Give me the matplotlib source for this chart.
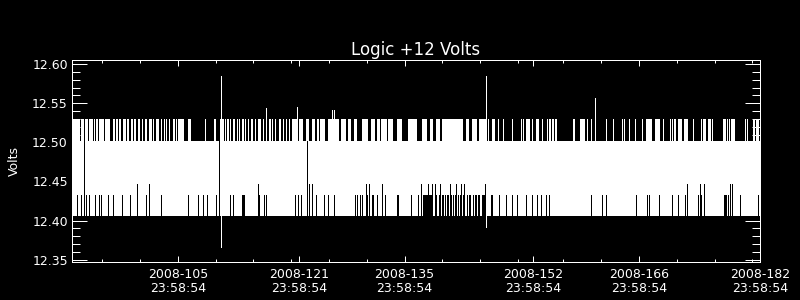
import matplotlib
matplotlib.use("Agg")
import matplotlib.pyplot as plt
from matplotlib.ticker import FixedLocator, MultipleLocator, FuncFormatter
import matplotlib.dates as mdates
from datetime import datetime, timedelta

# ---------------- data ----------------
title = "Logic +12 Volts"
ylabel = "Volts"

data_start_doy = 92.0          # 2008-092 00:00 (Apr 1)
data_end_doy = 182.99924       # 2008-182 23:58:54

band_low = 12.406              # usual minimum of the readings
band_high = 12.502             # usual maximum of the readings
upper_level = 12.530           # one-step excursions above the band
gap_level = 12.433             # minimum when the lowest step is absent
deep_gap_level = 12.447        # minimum when two lowest steps are absent

# periods (day-of-year 2008) where readings reach upper_level
upper_start = [92.00, 93.23, 93.67, 94.20, 94.90, 95.17, 95.52, 95.87, 96.40, 97.37,
               97.81, 98.25, 98.69, 99.26, 99.79, 100.19, 100.67, 101.25, 101.69, 102.13,
               102.74, 103.10, 103.80, 104.11, 104.42, 104.77, 105.30, 105.74, 106.05, 106.44,
               107.32, 109.53, 110.72, 111.55, 112.26, 112.48, 112.88, 113.23, 113.80, 114.11,
               114.46, 114.90, 115.30, 115.69, 116.14, 116.62, 117.28, 117.68, 118.07, 118.51,
               118.87, 119.40, 119.92, 120.32, 120.72, 121.11,
               122.04, 122.92, 123.71, 124.46, 124.77, 125.91, 126.79, 127.54, 128.51, 129.31,
               130.41, 131.51, 132.39, 132.83, 133.84, 135.03, 136.49, 137.01, 138.33, 139.35,
               140.19, 140.98, 141.64, 142.61, 143.45, 144.06, 144.94, 145.82,
               147.05, 147.50, 148.30, 149.00, 150.23, 151.34, 151.65, 152.08, 152.87, 153.40,
               154.19, 154.85,
               155.08, 155.43, 155.87, 158.25, 159.21, 159.48, 160.14, 160.67, 162.65, 163.57,
               164.81, 165.03, 165.61, 166.48, 167.41, 167.93, 169.08, 169.25, 170.23, 171.10,
               171.37, 171.59, 172.12, 173.01, 174.20, 175.17, 175.43, 176.18, 176.65, 178.07,
               178.69, 178.90, 179.22, 179.56, 181.07, 181.33, 182.03, 182.47]
upper_end = [92.97, 93.41, 93.93, 94.64, 94.90, 95.30, 95.65, 96.05, 96.93, 97.55,
             97.99, 98.38, 98.96, 99.40, 99.92, 100.32, 100.89, 101.25, 101.78, 102.48,
             102.74, 103.36, 103.80, 104.11, 104.42, 104.77, 105.43, 105.74, 106.22, 106.62,
             107.59, 109.53, 110.85, 111.95, 112.26, 112.61, 112.88, 113.40, 113.80, 114.11,
             114.59, 114.90, 115.30, 115.87, 116.14, 116.88, 117.28, 117.68, 118.21, 118.51,
             118.87, 119.57, 119.92, 120.32, 120.72, 121.69,
             122.39, 123.27, 123.98, 124.59, 125.34, 126.57, 127.24, 128.12, 128.73, 129.53,
             131.07, 131.95, 132.61, 133.49, 134.28, 135.47, 136.79, 137.45, 138.78, 139.66,
             140.54, 141.42, 142.52, 143.36, 143.62, 144.37, 145.38, 146.70,
             147.05, 147.80, 148.30, 149.00, 150.23, 151.34, 151.65, 152.44, 152.87, 153.66,
             154.19, 154.85,
             155.21, 155.60, 155.96, 158.38, 159.30, 159.66, 160.14, 160.67, 162.65, 163.57,
             164.81, 165.03, 165.61, 166.48, 167.41, 168.52, 169.08, 169.70, 170.23, 171.10,
             171.37, 171.82, 172.56, 173.31, 174.20, 175.17, 175.69, 176.39, 176.65, 178.43,
             178.69, 178.90, 179.39, 179.56, 181.07, 181.33, 182.16, 182.69]

# periods where the minimum only reaches gap_level
lower_gap_start = [92.61, 93.14, 93.85, 94.25, 94.99, 95.52, 95.78, 96.76, 97.37, 98.61,
                   99.61, 101.73, 103.76, 107.33, 108.65, 109.39, 109.92, 111.03, 112.88, 113.32,
                   114.47, 116.79, 117.45, 117.72, 121.47, 121.91, 122.26,
                   123.72, 124.24, 125.30, 125.91, 126.66, 129.44, 129.74, 130.06, 130.32,
                   131.06, 131.64, 131.82, 132.39, 133.40, 134.95, 135.16, 136.88, 137.80, 138.42,
                   139.05, 139.40, 139.95, 140.55, 141.00, 141.30, 141.60, 142.00, 142.35, 142.70,
                   143.00, 143.35, 143.75, 144.20, 144.50, 145.00, 145.35, 145.70, 146.20, 146.55,
                   147.37, 147.58, 148.47, 149.35, 150.23, 150.89, 152.08, 152.87, 153.45, 154.06,
                   154.72, 155.08, 160.63, 162.12, 162.65, 166.61, 168.07, 168.29, 169.65, 171.37,
                   172.16, 173.09, 174.81, 175.20, 178.20, 178.77, 180.35, 182.69]
lower_gap_end = [92.61, 93.14, 93.85, 94.25, 94.99, 95.52, 95.78, 96.76, 97.37, 98.61,
                 99.61, 101.73, 103.76, 107.33, 108.65, 109.39, 109.92, 111.03, 112.88, 113.32,
                 114.81, 116.79, 117.45, 117.72, 121.47, 121.91, 122.26,
                 123.72, 124.24, 125.30, 125.91, 126.66, 129.44, 129.74, 130.06, 130.32,
                 131.06, 131.64, 131.82, 132.39, 133.40, 134.95, 135.16, 136.88, 137.80, 138.91,
                 139.20, 139.50, 140.20, 140.70, 141.10, 141.40, 141.70, 142.10, 142.45, 142.80,
                 143.10, 143.45, 143.85, 144.30, 144.60, 145.10, 145.45, 145.80, 146.30, 146.70,
                 147.37, 147.58, 148.47, 149.35, 150.23, 150.89, 152.08, 152.87, 153.45, 154.06,
                 154.72, 155.08, 160.63, 162.12, 162.65, 166.61, 168.07, 168.29, 169.65, 171.37,
                 172.16, 173.09, 174.81, 175.20, 178.56, 178.77, 180.35, 182.69]

# moments where the minimum only reaches deep_gap_level
deep_gap_doy = [100.54, 102.25, 116.62, 123.36, 123.80, 130.85, 131.29, 132.97, 138.20, 139.12,
                139.65, 140.01, 140.63, 142.03, 142.75, 143.41, 143.80, 146.62, 173.35, 175.03,
                175.60, 179.04, 179.26]

# short data dropouts
data_gap_doy = [93.53, 111.38, 123.03]

# isolated spikes
spike_doy = [111.77, 146.79, 161.15, 117.68, 121.77, 126.40, 126.66]
spike_low = [12.366, 12.392, 12.502, 12.502, 12.502, 12.502, 12.502]
spike_high = [12.585, 12.585, 12.557, 12.544, 12.545, 12.542, 12.542]

major_tick_times = ["2008-04-14 23:58:54", "2008-04-30 23:58:54", "2008-05-14 23:58:54",
                    "2008-05-31 23:58:54", "2008-06-14 23:58:54", "2008-06-30 23:58:54"]
minor_tick_times = ["2008-04-04 23:58:54", "2008-04-09 23:58:54", "2008-04-14 23:58:54",
                    "2008-04-19 23:58:54", "2008-04-24 23:58:54", "2008-04-29 23:58:54",
                    "2008-05-04 23:58:54", "2008-05-09 23:58:54", "2008-05-14 23:58:54",
                    "2008-05-19 23:58:54", "2008-05-24 23:58:54", "2008-05-29 23:58:54",
                    "2008-06-04 23:58:54", "2008-06-09 23:58:54", "2008-06-14 23:58:54",
                    "2008-06-19 23:58:54", "2008-06-24 23:58:54", "2008-06-29 23:58:54"]

y_limits = (12.347, 12.606)
y_major = 0.05
y_minor = 0.01

# ---------------- helpers ----------------
def doy_to_num(d):
    return mdates.date2num(datetime(2008, 1, 1) + timedelta(days=d - 1))

def str_to_num(s):
    return mdates.date2num(datetime.strptime(s, "%Y-%m-%d %H:%M:%S"))

def spans(starts, ends):
    return [(doy_to_num(s), doy_to_num(e) - doy_to_num(s)) for s, e in zip(starts, ends)]

# ---------------- figure ----------------
plt.rcParams['font.family'] = ['DejaVu Sans']
fig = plt.figure(figsize=(8, 3), dpi=100, facecolor='black')
ax = fig.add_axes([72 / 800, 1 - 262 / 300, 688 / 800, (262 - 59.5) / 300])
ax.set_facecolor('black')

x0 = doy_to_num(data_start_doy)
x1 = doy_to_num(data_end_doy)
px = 0.72  # one pixel in points

ax.fill_between([x0, x1], band_low, band_high, color='white', lw=0, antialiased=False, zorder=1)
ax.broken_barh(spans(upper_start, upper_end), (band_high, upper_level - band_high),
               facecolors='white', edgecolors='white', linewidth=px, antialiased=False, zorder=2)
ax.broken_barh(spans(lower_gap_start, lower_gap_end), (band_low, gap_level - band_low),
               facecolors='black', edgecolors='black', linewidth=px, antialiased=False, zorder=3)
ax.vlines([doy_to_num(d) for d in deep_gap_doy], band_low, deep_gap_level,
          colors='black', lw=px, antialiased=False, zorder=3)
ax.vlines([doy_to_num(d) for d in data_gap_doy], band_low, band_high,
          colors='black', lw=px, antialiased=False, zorder=4)
ax.vlines([doy_to_num(d) for d in spike_doy], spike_low, spike_high,
          colors='white', lw=px, antialiased=False, zorder=5)

ax.set_xlim(doy_to_num(92.0), x1)
ax.set_ylim(*y_limits)

ax.xaxis.set_major_locator(FixedLocator([str_to_num(s) for s in major_tick_times]))
ax.xaxis.set_minor_locator(FixedLocator([str_to_num(s) for s in minor_tick_times]))
ax.xaxis.set_major_formatter(FuncFormatter(
    lambda v, p: mdates.num2date(v).strftime("%Y-%j\n%H:%M:%S")))
ax.yaxis.set_major_locator(MultipleLocator(y_major))
ax.yaxis.set_minor_locator(MultipleLocator(y_minor))
ax.yaxis.set_major_formatter(FuncFormatter(lambda v, p: f"{v:.2f}"))

for s in ax.spines.values():
    s.set_color('white')
    s.set_linewidth(px)
    s.set_zorder(6)

ax.tick_params(axis='both', which='both', direction='in', colors='white',
               top=True, right=True, width=px, labelsize=9)
ax.tick_params(axis='y', which='major', length=10.6, pad=3)
ax.tick_params(axis='y', which='minor', length=5.8)
ax.tick_params(axis='x', which='major', length=4.3, pad=4)
ax.tick_params(axis='x', which='minor', length=2.2)
for lab in ax.get_xticklabels():
    lab.set_linespacing(1.15)

ax.set_title(title, color='white', fontsize=12, pad=3)
ax.set_ylabel(ylabel, color='white', fontsize=9)
ax.yaxis.set_label_coords(-51 / 688, 0.5)

fig.savefig("out.png", dpi=100, facecolor='black')
